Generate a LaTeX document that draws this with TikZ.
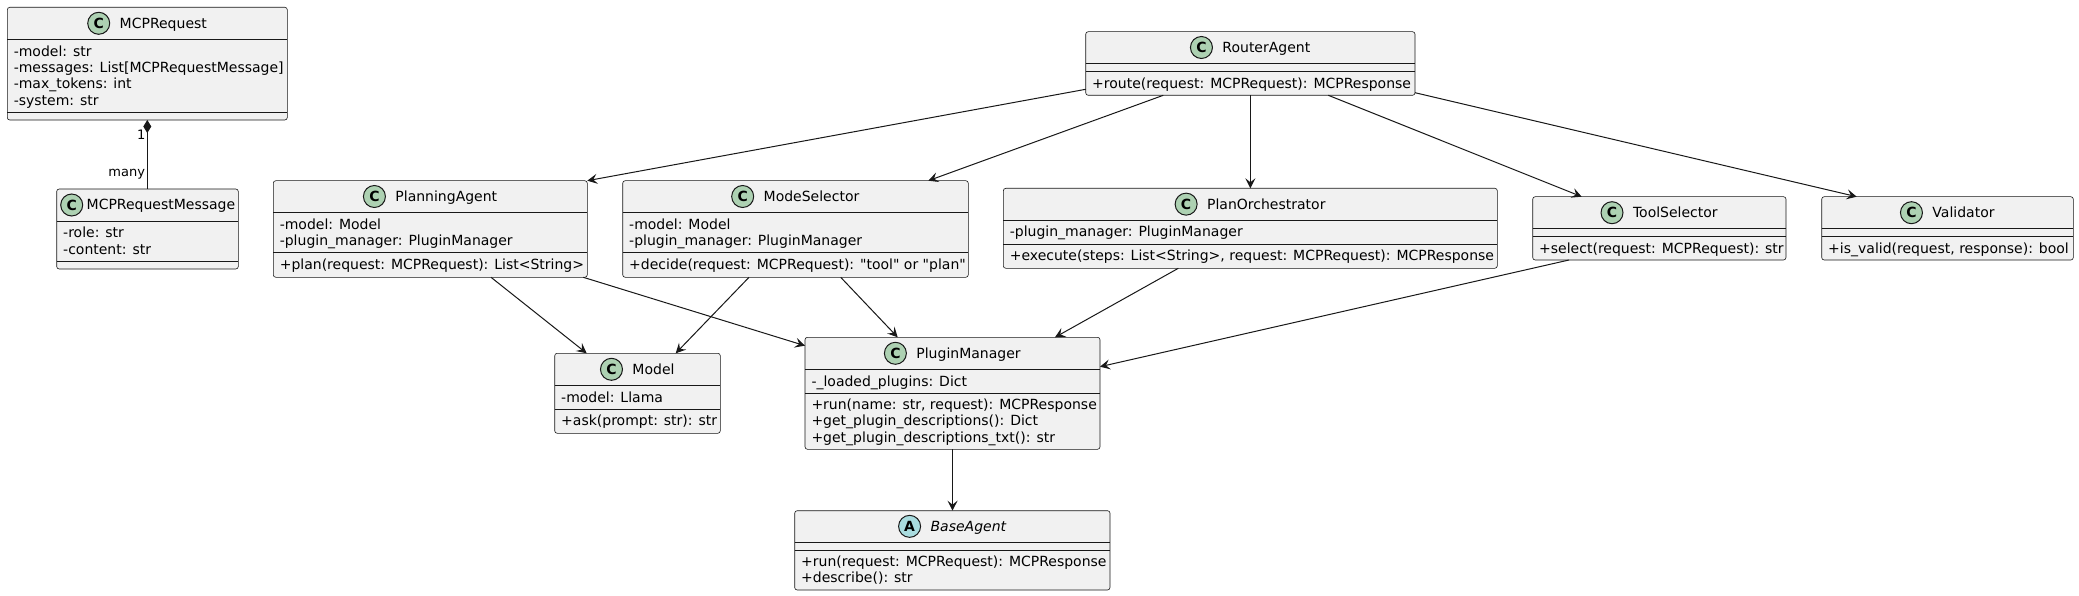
\documentclass[tikz,border=0pt]{standalone}
\usepackage{fontspec}
\setmainfont{DejaVu Sans}
\newfontfamily\umlfont{DejaVu Sans}
\usetikzlibrary{arrows.meta,calc}
\definecolor{umlline}{HTML}{181818}
\definecolor{umlfill}{HTML}{F1F1F1}
\definecolor{spotc}{HTML}{ADD1B2}
\definecolor{spota}{HTML}{A9DCDF}
\tikzset{
  clsbox/.style={draw=umlline, fill=umlfill, line width=0.6pt, rounded corners=2.5pt, inner sep=0pt, outer sep=0pt},
  sepline/.style={draw=umlline, line width=0.6pt},
  linetext/.style={inner sep=0pt, outer sep=0pt, font=\umlfont\fontsize{14}{16.3}\selectfont, anchor=base west},
  headtext/.style={inner sep=0pt, outer sep=0pt, font=\umlfont\fontsize{14}{16.3}\selectfont, anchor=base},
  spot/.style={circle, draw=umlline, line width=1pt, minimum size=22pt, inner sep=0pt, font=\umlfont\fontsize{14}{14}\selectfont\bfseries},
  arr/.style={draw=umlline, line width=1pt, -{Stealth[length=10pt,width=10pt,inset=4pt]}},
  comp/.style={draw=umlline, line width=1pt, {Diamond[length=13pt,width=8pt]}-},
  card/.style={inner sep=0pt, outer sep=0pt, font=\umlfont\fontsize{13}{15}\selectfont, anchor=base east},
}
% box: name, x1, y1, x2, y2, divider1, divider2
\newcommand{\umlbox}[7]{%
  \node[clsbox, anchor=north west, minimum width={(#4)-(#2)}, minimum height={(#5)-(#3)}] (#1) at (#2,#3) {};
  \draw[sepline] (#2,#6) -- (#4,#6);
  \draw[sepline] (#2,#7) -- (#4,#7);
}
% header: name, centre x, centre y, letter, spot colour, text
\newcommand{\umlhead}[6]{%
  \node[headtext] (#1) at (#2,{#3+5}) {\hspace*{32pt}#6};
  \node[spot, fill=#5] (#1s) at ([xshift=11pt, yshift=5pt]#1.base west) {#4};
}
% text line: name, x, baseline y, text
\newcommand{\umlline}[4]{\node[linetext] (#1) at (#2,#3) {#4};}
\begin{document}
\begin{tikzpicture}[x=1pt,y=-1pt]
\fill[white] (0,0) rectangle (2079,596);
\useasboundingbox (0,0) rectangle (2079,596);

% MCPRequest
\umlbox{mr}{7.3}{7.3}{287.3}{120}{39.3}{112.5}
\umlhead{mrh}{147.3}{23.3}{C}{spotc}{MCPRequest}
\umlline{mra}{13.8}{56.3}{-model: str}
\umlline{mrb}{13.8}{72.6}{-messages: List[MCPRequestMessage]}
\umlline{mrc}{13.8}{88.9}{-max\_tokens: int}
\umlline{mrd}{13.8}{105.2}{-system: str}

% MCPRequestMessage
\umlbox{msg}{56.7}{189}{238.3}{269}{221}{261}
\node[headtext, anchor=base west] (msgh) at (86.7,210) {MCPRequestMessage};
\node[spot, fill=spotc] (msghs) at (71.7,205) {C};
\umlline{msga}{63.2}{237.8}{-role: str}
\umlline{msgb}{63.2}{254.1}{-content: str}

% RouterAgent
\umlbox{ra}{1085.7}{31.7}{1415}{95.3}{63.3}{71.7}
\umlhead{rah}{1250.35}{47.5}{C}{spotc}{RouterAgent}
\umlline{raa}{1092.2}{88.3}{+route(request: MCPRequest): MCPResponse}

% PlanningAgent
\umlbox{pa}{273.3}{180.7}{587.3}{277.3}{212.3}{252.3}
\umlhead{pah}{430.3}{196.5}{C}{spotc}{PlanningAgent}
\umlline{paa}{279.8}{229.1}{-model: Model}
\umlline{pab}{279.8}{245.4}{-plugin\_manager: PluginManager}
\umlline{pac}{279.8}{269.3}{+plan(request: MCPRequest): List<String>}

% ModeSelector
\umlbox{ms}{622.7}{180.7}{968.3}{277.3}{212.3}{252.3}
\umlhead{msh}{795.5}{196.5}{C}{spotc}{ModeSelector}
\umlline{msa}{629.2}{229.1}{-model: Model}
\umlline{msb}{629.2}{245.4}{-plugin\_manager: PluginManager}
\umlline{msc}{629.2}{269.3}{+decide(request: MCPRequest): "tool" or "plan"}

% PlanOrchestrator
\umlbox{po}{1003.3}{188.3}{1497.3}{268.3}{220}{244.3}
\umlhead{poh}{1250.3}{204.15}{C}{spotc}{PlanOrchestrator}
\umlline{poa}{1009.8}{236.8}{-plugin\_manager: PluginManager}
\umlline{pob}{1009.8}{260.6}{+execute(steps: List<String>, request: MCPRequest): MCPResponse}

% ToolSelector
\umlbox{ts}{1532.7}{196.7}{1786}{260}{228.7}{236.7}
\umlhead{tsh}{1659.35}{212.7}{C}{spotc}{ToolSelector}
\umlline{tsa}{1539.2}{253}{+select(request: MCPRequest): str}

% Validator
\umlbox{vd}{1821.7}{196.7}{2073.3}{260}{228.7}{236.7}
\umlhead{vdh}{1947.5}{212.7}{C}{spotc}{Validator}
\umlline{vda}{1828.2}{253}{+is\_valid(request, response): bool}

% Model
\umlbox{mo}{554.7}{353.3}{720.3}{433.3}{385.3}{409.3}
\umlhead{moh}{637.5}{369.3}{C}{spotc}{Model}
\umlline{moa}{561.2}{402.1}{-model: Llama}
\umlline{mob}{561.2}{425.6}{+ask(prompt: str): str}

% PluginManager
\umlbox{pm}{805}{337.3}{1100}{449.3}{369.3}{393.3}
\umlhead{pmh}{952.5}{353.3}{C}{spotc}{PluginManager}
\umlline{pma}{811.5}{386.1}{-\_loaded\_plugins: Dict}
\umlline{pmb}{811.5}{409.6}{+run(name: str, request): MCPResponse}
\umlline{pmc}{811.5}{425.9}{+get\_plugin\_descriptions(): Dict}
\umlline{pmd}{811.5}{442.2}{+get\_plugin\_descriptions\_txt(): str}

% BaseAgent
\umlbox{ba}{794.7}{510.7}{1110}{590}{542}{550}
\umlhead{bah}{952.35}{526.35}{A}{spota}{\itshape BaseAgent}
\umlline{baa}{801.2}{566.3}{+run(request: MCPRequest): MCPResponse}
\umlline{bab}{801.2}{582.6}{+describe(): str}

% composition
\coordinate (cmp) at ([xshift=140pt]mr.south west);
\draw[comp] (cmp) -- (cmp |- msg.north);
\node[card] (cardone) at (145.5,139.7) {1};
\node[card] (cardmany) at (145,176.8) {many};

% connectors
\draw[arr] ([yshift=6pt]ra.south west) -- (pa.north east);
\draw[arr] ([xshift=77.6pt]ra.south west) -- ([xshift=-40pt]ms.north east);
\draw[arr] (ra.south) -- (ra.south |- po.north);
\draw[arr] ([xshift=-86.7pt]ra.south east) -- ([xshift=49pt]ts.north west);
\draw[arr] ([yshift=2.6pt]ra.south east) -- ([xshift=35pt]vd.north west);
\draw[arr] ([xshift=217.7pt]pa.south west) -- ([xshift=32pt]mo.north west);
\draw[arr] ([xshift=-4pt]pa.south east) -- ([yshift=-8.4pt]pm.north west);
\draw[arr] ([xshift=126.3pt]ms.south west) -- ([xshift=121pt]mo.north west);
\draw[arr] ([xshift=218pt]ms.south west) -- ([xshift=92.7pt]pm.north west);
\draw[arr] ([xshift=175pt]po.south west) -- ([xshift=250pt]pm.north west);
\draw[arr] ([xshift=36.3pt]ts.south west) -- ([yshift=-29.4pt]pm.north east);
\draw[arr] (pm.south) -- (pm.south |- ba.north);
\end{tikzpicture}
\end{document}
